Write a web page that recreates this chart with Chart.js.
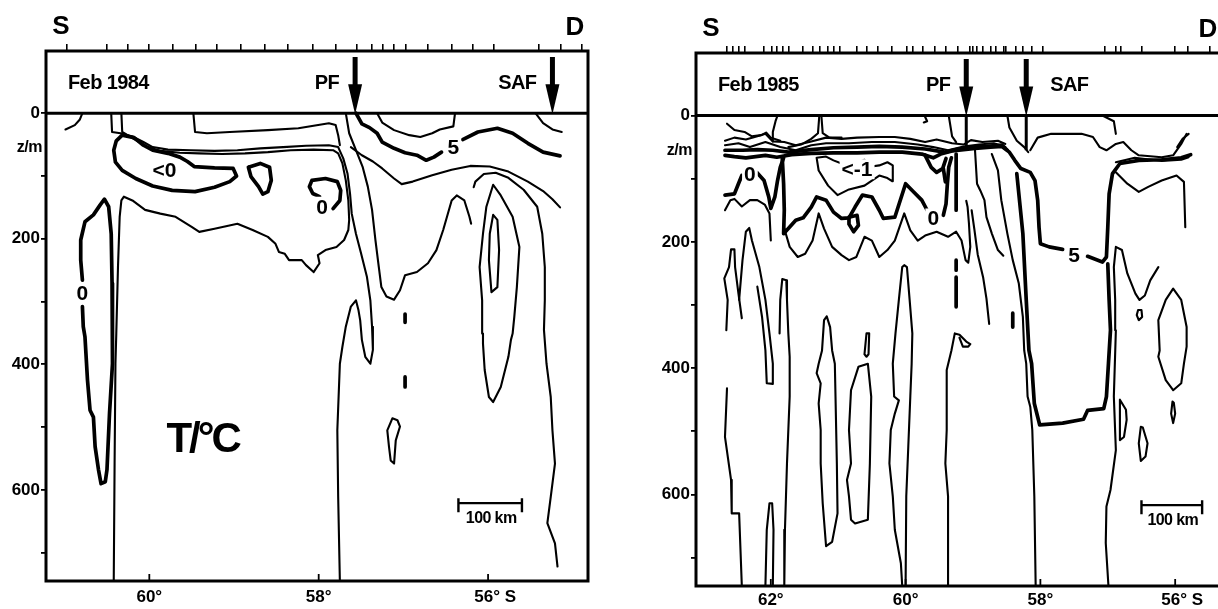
<!DOCTYPE html>
<html>
<head>
<meta charset="utf-8">
<script src="https://cdn.jsdelivr.net/npm/chart.js@4.4.1/dist/chart.umd.min.js"></script>
<style>
html, body { margin: 0; padding: 0; background: #fff; overflow: hidden; width: 1218px; height: 609px; }
canvas { position: absolute; top: 0; }
#c84 { left: 0; }
#c85 { left: 618px; }
</style>
</head>
<body>
<canvas id="c84" width="600" height="609"></canvas>
<canvas id="c85" width="612" height="609"></canvas>
<script>
// all points are [latitude °S, depth m]
const depthTicks = [0, 100, 200, 300, 400, 500, 600, 700];
const latTicks84 = [60, 58, 56];
const latTicks85 = [62, 60, 58, 56];

const stations84 = [60.98, 60.50, 60.26, 60.01, 59.72, 59.45, 59.20, 58.92, 58.64, 58.37, 58.07, 57.80,
  57.55, 57.37, 57.24, 57.11, 56.97, 56.71, 56.43, 56.18, 55.93, 55.40, 55.14, 54.89];
const stations85 = [62.65, 62.56, 62.47, 62.38, 62.11, 61.99, 61.91, 61.82, 61.74, 61.52, 61.37, 61.27,
  61.16, 61.07, 60.97, 60.72, 60.57, 60.41, 60.20, 59.98, 59.89, 59.74, 59.56, 59.40, 59.23, 59.04,
  59.00, 58.95, 58.85, 58.74, 58.66, 58.55, 58.51, 58.37, 58.26, 58.12, 57.97, 57.04, 56.88, 56.80,
  56.50, 56.00, 55.82, 55.48];

// fronts: name, latitude, depth reached by the marker below the surface
const fronts84 = [['PF', 57.57, 0], ['SAF', 55.24, 0]];
const fronts85 = [['PF', 59.10, 50], ['SAF', 58.21, 55]];

// contour labels: text, latitude, depth
const tags84 = [['<0', 59.82, 91], ['0', 57.96, 149], ['0', 60.79, 287], ['5', 56.41, 54]];
const tags85 = [['0', 62.31, 93], ['<-1', 60.72, 85], ['0', 59.59, 163], ['5', 57.50, 221]];
const unit84 = ['T/°C', 59.37, 521];
const bar84 = [56.35, 55.60, 621];
const bar85 = [56.50, 55.60, 617];

// Feb 1984 isotherms
const thin84 = [
  [[60.99,26],[60.88,19],[60.82,10],[60.79,0]],
  [[60.45,0],[60.44,30],[60.34,32],[60.20,37],[60.07,46],[59.96,54],[59.78,58],[59.51,59],[59.23,60],[58.96,59],[58.69,56],[58.42,54],[58.15,52],[57.88,51],[57.77,54],[57.71,72],[57.66,96],[57.63,128],[57.61,160],[57.56,192],[57.50,223],[57.43,261],[57.39,298],[57.37,340],[57.36,377],[57.39,399],[57.45,388],[57.49,361],[57.51,330],[57.53,314],[57.56,298],[57.62,308],[57.68,340],[57.72,372],[57.75,399],[57.78,505],[57.77,611],[57.75,745]],
  [[60.33,0],[60.32,30],[60.16,43],[60.02,54],[59.87,60],[59.64,63],[59.41,64],[59.14,65],[58.87,64],[58.60,62],[58.33,59],[58.06,58],[57.83,59],[57.77,64],[57.72,80],[57.68,107],[57.65,139],[57.64,170],[57.65,186],[57.70,202],[57.79,213],[57.92,218],[58.01,226],[57.99,239],[58.06,253],[58.15,242],[58.20,234],[58.35,234],[58.40,224],[58.47,221],[58.51,208],[58.60,197],[58.78,186],[58.96,176],[59.23,184],[59.41,189],[59.50,181],[59.69,165],[59.87,160],[60.05,154],[60.20,139],[60.30,133],[60.33,139],[60.35,165],[60.37,245],[60.39,351],[60.40,399],[60.41,558],[60.42,745]],
  [[59.48,0],[59.46,30],[59.32,32],[59.05,30],[58.60,27],[58.24,24],[57.88,16],[57.80,19],[57.77,35],[57.75,51]],
  [[57.68,0],[57.64,32],[57.56,59],[57.48,86],[57.42,117],[57.37,154],[57.33,202],[57.29,245],[57.26,277],[57.20,292],[57.11,297],[57.04,282],[56.98,258],[56.84,253],[56.71,239],[56.61,218],[56.53,186],[56.43,139],[56.37,131],[56.28,139],[56.22,165],[56.20,176]],
  [[57.31,0],[57.25,15],[57.11,27],[56.93,35],[56.80,38],[56.66,32],[56.57,26],[56.41,21],[56.39,0]],
  [[57.62,54],[57.49,67],[57.36,77],[57.25,88],[57.11,104],[57.02,113],[56.89,109],[56.66,99],[56.43,90],[56.21,84],[55.98,85],[55.76,93],[55.53,109],[55.35,124],[55.24,137],[55.15,150]],
  [[55.44,0],[55.35,16],[55.24,26],[55.13,30]],
  [[56.17,118],[56.15,109],[56.05,97],[55.91,95],[55.76,103],[55.58,122],[55.42,149],[55.36,192],[55.33,245],[55.33,298],[55.34,345],[55.31,399],[55.26,452],[55.24,505],[55.21,558],[55.26,611],[55.30,653],[55.21,685],[55.18,722]],
  [[56.06,351],[56.07,298],[56.10,245],[56.06,192],[56.02,149],[55.94,114],[55.85,131],[55.71,165],[55.63,213],[55.66,277],[55.69,324],[55.71,351],[55.73,361],[55.76,388],[55.85,436],[55.94,460],[55.99,452],[56.04,409],[56.06,367],[56.06,351]],
  [[55.94,162],[55.98,192],[55.99,234],[55.96,285],[55.89,277],[55.87,218],[55.89,170],[55.94,162]],
  [[57.13,486],[57.07,489],[57.04,499],[57.09,521],[57.11,558],[57.15,553],[57.17,531],[57.19,505],[57.13,486]]
];
const thick84 = [
  [[60.32,35],[60.18,39],[60.07,51],[59.96,59],[59.78,64],[59.64,70],[59.55,77],[59.47,85],[59.23,87],[59.01,88],[58.97,100],[59.05,109],[59.23,118],[59.46,125],[59.73,123],[59.96,116],[60.16,104],[60.32,91],[60.40,78],[60.42,59],[60.39,44],[60.32,35]],
  [[58.83,86],[58.69,80],[58.58,86],[58.56,107],[58.60,125],[58.66,129],[58.71,117],[58.80,101],[58.83,86]],
  [[57.83,152],[57.75,139],[57.74,123],[57.78,109],[57.92,104],[58.08,107],[58.11,117],[58.07,128],[57.99,133]],
  [[60.79,266],[60.81,234],[60.81,202],[60.76,173],[60.66,162],[60.58,146],[60.53,137],[60.48,149],[60.45,192],[60.44,271],[60.43,346],[60.44,399],[60.47,478],[60.50,568],[60.52,587],[60.57,590],[60.60,568],[60.64,531],[60.66,484],[60.70,473],[60.73,425],[60.76,356],[60.78,340],[60.79,308]],
  [[57.56,0],[57.49,17],[57.40,23],[57.31,32],[57.25,46],[57.11,56],[56.98,63],[56.84,67],[56.73,75],[56.64,70],[56.55,62]],
  [[56.30,42],[56.12,30],[55.89,24],[55.71,32],[55.53,48],[55.35,62],[55.15,68]],
  [[56.98,320],[56.98,333]],
  [[56.98,420],[56.98,436]]
];

// Feb 1985 isotherms
const thin85 = [
  [[62.65,13],[62.54,23],[62.39,26],[62.28,33],[62.14,31],[62.07,27],[62.00,35],[61.86,40]],
  [[61.97,41],[61.97,26],[61.93,9],[61.90,0]],
  [[61.74,50],[61.55,46],[61.40,37],[61.30,28],[61.28,0]],
  [[61.25,0],[61.23,28],[61.13,35],[60.95,35]],
  [[59.72,0],[59.68,9],[59.73,11]],
  [[59.36,0],[59.31,33],[59.25,42]],
  [[58.49,0],[58.46,19],[58.35,40],[58.24,50],[58.18,58]],
  [[58.15,55],[58.04,35],[57.84,29],[57.39,29],[57.22,34],[57.12,50],[57.02,55],[56.88,45],[56.77,42],[56.65,55],[56.54,63],[56.20,66],[56.03,63],[55.91,45],[55.83,29]],
  [[56.88,74],[56.60,67],[56.20,72],[55.91,70],[55.80,66]],
  [[55.97,50],[55.89,37],[55.80,29]],
  [[57.08,0],[56.91,9],[56.88,29]],
  [[62.68,40],[62.54,35],[62.37,38],[62.20,33],[62.08,29],[61.97,41],[61.80,42],[61.63,47],[61.40,41],[61.18,35],[60.95,37],[60.72,35],[60.39,34],[60.16,34],[59.93,37],[59.71,42],[59.54,38],[59.31,44],[59.14,46],[59.03,39],[58.86,42],[58.63,40],[58.52,45]],
  [[62.68,47],[62.48,44],[62.31,50],[62.08,42],[61.86,50],[61.63,55],[61.40,47],[61.18,44],[60.84,44],[60.50,42],[60.16,42],[59.82,46],[59.59,50],[59.37,55],[59.14,49],[58.91,46],[58.69,44],[58.52,50]],
  [[62.68,150],[62.60,134],[62.54,132],[62.43,144],[62.31,134],[62.20,134],[62.09,141],[62.02,155],[62.00,198]],
  [[61.32,67],[61.29,87],[61.15,111],[61.01,126],[60.84,117],[60.61,111],[60.39,95],[60.27,99],[60.20,104],[60.19,79],[60.27,74],[60.39,79],[60.53,81],[60.61,70],[60.72,75],[60.84,82],[60.95,76],[61.07,71],[61.18,65],[61.32,67]],
  [[61.80,179],[61.72,208],[61.60,224],[61.49,219],[61.38,198],[61.29,155],[61.21,179],[61.09,208],[60.95,221],[60.84,229],[60.73,224],[60.61,192],[60.50,198],[60.39,224],[60.27,213],[60.16,198],[60.02,155],[59.93,182],[59.82,198],[59.71,190],[59.54,184],[59.37,192],[59.25,184],[59.17,198],[59.11,229],[59.07,233],[59.04,208],[59.06,171],[59.08,145],[59.10,135]],
  [[58.97,55],[58.94,108],[58.89,119],[58.83,134],[58.80,161],[58.72,187],[58.63,213],[58.55,222]],
  [[58.72,61],[58.63,87],[58.58,134],[58.49,187],[58.41,229],[58.32,266],[58.26,319],[58.24,372],[58.21,393],[58.19,445],[58.15,461],[58.12,498],[58.09,603],[58.07,745]],
  [[59.02,150],[58.98,180],[58.93,220],[58.85,256],[58.80,290],[58.76,330]],
  [[56.88,90],[56.71,108],[56.54,121],[56.40,113],[56.20,103],[55.98,95],[55.87,105],[55.85,177]],
  [[56.99,745],[57.03,677],[57.02,619],[56.96,593],[56.88,530],[56.91,445],[56.88,340],[56.89,292],[56.91,240],[56.88,208],[56.79,213],[56.71,250],[56.59,282],[56.53,292],[56.45,285],[56.37,261],[56.25,240]],
  [[56.23,372],[56.25,324],[56.14,292],[56.03,274],[55.91,292],[55.83,335],[55.83,366],[55.87,393],[55.91,424],[56.03,435],[56.14,419],[56.25,382],[56.23,372]],
  [[56.55,308],[56.50,308],[56.49,319],[56.54,324],[56.57,316],[56.55,308]],
  [[56.82,450],[56.73,466],[56.72,482],[56.76,509],[56.82,514],[56.82,450]],
  [[56.04,453],[56.06,472],[56.03,487],[56.00,472],[56.02,455],[56.04,453]],
  [[56.51,493],[56.54,519],[56.51,547],[56.44,540],[56.41,519],[56.48,494],[56.51,493]],
  [[62.66,340],[62.64,292],[62.69,258],[62.62,240],[62.59,212],[62.54,212],[62.53,240],[62.48,282],[62.43,321]],
  [[62.65,432],[62.68,509],[62.59,577],[62.58,630],[62.47,630],[62.43,745]],
  [[62.47,292],[62.42,229],[62.37,184],[62.32,178],[62.28,198],[62.17,240],[62.08,292],[62.02,345],[61.97,393],[61.97,425],[62.06,424],[62.08,372],[62.13,319],[62.20,271]],
  [[61.87,345],[61.86,292],[61.83,259],[61.77,261],[61.76,292],[61.74,345],[61.72,382],[61.72,445],[61.76,551],[61.79,656],[61.80,745]],
  [[62.08,745],[62.06,656],[62.02,614],[61.98,614],[61.96,656],[61.97,745]],
  [[61.24,372],[61.29,393],[61.32,408],[61.26,424],[61.29,456],[61.26,498],[61.26,551],[61.23,614],[61.18,682],[61.09,675],[61.01,630],[61.02,551],[61.04,445],[61.05,393],[61.09,372],[61.12,335],[61.17,318],[61.21,324],[61.24,372]],
  [[60.61,378],[60.58,345],[60.54,345],[60.55,378],[60.58,382],[60.61,378]],
  [[60.56,393],[60.70,398],[60.81,435],[60.84,498],[60.81,551],[60.87,577],[60.84,603],[60.81,640],[60.75,646],[60.56,640],[60.53,551],[60.51,445],[60.56,393]],
  [[60.05,745],[60.07,709],[60.16,656],[60.19,603],[60.24,551],[60.22,498],[60.16,472],[60.10,451],[60.17,445],[60.19,393],[60.15,345],[60.10,292],[60.05,240],[60.02,237],[59.98,240],[59.94,292],[59.90,345],[59.91,393],[59.93,445],[59.96,524],[59.99,603],[60.00,745]],
  [[59.36,745],[59.37,603],[59.41,551],[59.39,498],[59.39,403],[59.32,372],[59.27,345],[59.20,347],[59.10,358],[59.04,362],[59.07,366],[59.15,366],[59.20,352]]
];
const thick85 = [
  [[62.68,55],[62.42,55],[62.20,54],[61.97,55],[61.74,58],[61.40,54],[61.07,51],[60.72,50],[60.39,49],[60.05,50],[59.71,53],[59.42,58],[59.25,54],[59.03,50],[58.80,49],[58.57,47],[58.49,55]],
  [[62.68,63],[62.54,65],[62.37,67],[62.08,63],[61.91,66],[61.69,62],[61.40,60],[61.07,59],[60.72,59],[60.39,58],[60.05,58],[59.76,61],[59.59,67],[59.48,61],[59.31,56],[59.14,54],[58.97,52],[58.74,50],[58.57,49],[58.46,58],[58.38,71],[58.29,84],[58.15,90],[58.08,103],[58.04,134],[58.02,177],[58.00,203],[57.87,208],[57.67,212]],
  [[57.30,223],[57.08,232],[57.02,224],[57.00,177],[56.98,124],[56.93,92],[56.82,76],[56.54,71],[56.20,70],[55.91,67],[55.77,62]],
  [[58.35,92],[58.26,187],[58.21,292],[58.17,372],[58.13,393],[58.09,456],[58.01,490],[57.67,487],[57.36,481],[57.30,467],[57.06,464],[57.02,445],[56.99,393],[56.96,340],[56.98,292],[57.00,235]],
  [[62.68,126],[62.54,124],[62.48,108],[62.43,95]],
  [[62.21,90],[62.10,103],[62.03,129],[62.00,147],[61.94,129],[61.90,103],[61.86,82],[61.81,67]],
  [[61.83,67],[61.81,108],[61.80,150],[61.81,187],[61.74,179],[61.63,166],[61.52,162],[61.40,145],[61.32,129],[61.18,134],[61.07,153],[60.95,163],[60.84,162],[60.75,145],[60.64,126],[60.50,129],[60.39,150],[60.33,163],[60.16,161],[60.00,108],[59.88,121],[59.76,134],[59.68,150]],
  [[59.44,158],[59.40,140],[59.38,108],[59.36,82],[59.32,67]],
  [[59.71,63],[59.62,82],[59.54,90],[59.45,84],[59.40,68]],
  [[59.25,61],[59.25,150]],
  [[60.84,161],[60.72,158],[60.70,174],[60.77,184],[60.84,172],[60.84,161]],
  [[59.44,84],[59.41,105]],
  [[59.25,229],[59.25,245]],
  [[59.25,256],[59.25,303]],
  [[58.41,313],[58.41,335]]
];

const FONT = "'Liberation Sans', Arial, sans-serif";

function contour(pts, w) {
  return {
    data: pts.map(p => ({ x: p[0], y: p[1] })),
    showLine: true, pointRadius: 0, borderColor: '#000', borderWidth: w,
    borderJoinStyle: 'round', borderCapStyle: 'round', tension: 0, fill: false
  };
}

function panelPlugin(P) {
  return {
    id: 'panel' + P.title,
    afterDatasetsDraw(chart) {
      const { ctx, scales: { x, y } } = chart;
      ctx.save();
      ctx.font = 'bold 21px ' + FONT;
      ctx.textAlign = 'center';
      ctx.textBaseline = 'middle';
      P.tags.forEach(([t, lat, d]) => {
        const px = x.getPixelForValue(lat), py = y.getPixelForValue(d);
        const w = ctx.measureText(t).width;
        ctx.fillStyle = '#fff';
        ctx.fillRect(px - w / 2 - 2, py - 10, w + 4, 20);
        ctx.fillStyle = '#000';
        ctx.fillText(t, px, py + 1);
      });
      if (P.unit) {
        ctx.font = 'bold 42px ' + FONT;
        ctx.letterSpacing = '-3px';
        ctx.fillText(P.unit[0], x.getPixelForValue(P.unit[1]), y.getPixelForValue(P.unit[2]));
        ctx.letterSpacing = '0px';
      }
      // 100 km scale bar
      const [b1, b2, bd] = P.bar;
      const bx1 = x.getPixelForValue(b1), bx2 = x.getPixelForValue(b2), by = y.getPixelForValue(bd);
      ctx.strokeStyle = '#000';
      ctx.lineWidth = 2.4;
      ctx.beginPath();
      ctx.moveTo(bx1, by); ctx.lineTo(bx2, by);
      ctx.moveTo(bx1, by - 5); ctx.lineTo(bx1, by + 9);
      ctx.moveTo(bx2, by - 5); ctx.lineTo(bx2, by + 9);
      ctx.stroke();
      ctx.font = 'bold 16px ' + FONT;
      ctx.letterSpacing = '-0.6px';
      ctx.fillStyle = '#000';
      ctx.fillText('100 km', (bx1 + bx2) / 2 + 1, by + 15);
      ctx.letterSpacing = '0px';
      ctx.restore();
    },
    afterDraw(chart) {
      const { ctx, chartArea: a, scales: { x, y } } = chart;
      const y0 = y.getPixelForValue(0);
      ctx.save();
      ctx.strokeStyle = '#000';
      ctx.fillStyle = '#000';
      ctx.lineWidth = 3;
      ctx.strokeRect(a.left, a.top, a.right - a.left, a.bottom - a.top);
      ctx.beginPath();
      ctx.moveTo(a.left, y0); ctx.lineTo(a.right, y0);
      ctx.stroke();
      // inward ticks on the latitude axis
      ctx.lineWidth = 1.8;
      P.latTicks.forEach(v => {
        const px = x.getPixelForValue(v);
        ctx.beginPath(); ctx.moveTo(px, a.bottom); ctx.lineTo(px, a.bottom - 7); ctx.stroke();
      });
      // front arrows
      const ty = y.getPixelForValue(-47);
      P.fronts.forEach(([name, lat, deep], i) => {
        const px = x.getPixelForValue(lat);
        ctx.lineWidth = 5;
        ctx.beginPath(); ctx.moveTo(px, a.top + 6); ctx.lineTo(px, y0 - 26); ctx.stroke();
        ctx.beginPath();
        ctx.moveTo(px - 7, y0 - 29); ctx.lineTo(px + 7, y0 - 29); ctx.lineTo(px, y0 + 1);
        ctx.closePath(); ctx.fill();
        if (deep > 0) {
          ctx.lineWidth = 3;
          ctx.beginPath(); ctx.moveTo(px, y0); ctx.lineTo(px, y.getPixelForValue(deep)); ctx.stroke();
        }
        ctx.font = 'bold 20px ' + FONT;
        ctx.letterSpacing = '-0.6px';
        ctx.textBaseline = 'middle';
        if (P.frontSides[i] === 'right') { ctx.textAlign = 'left'; ctx.fillText(name, px + 24, ty); }
        else { ctx.textAlign = 'right'; ctx.fillText(name, px - 16, ty); }
      });
      ctx.textAlign = 'left';
      ctx.fillText(P.title, a.left + 22, ty);
      ctx.letterSpacing = '0px';
      // section ends and depth unit
      ctx.font = 'bold 26px ' + FONT;
      ctx.textAlign = 'center';
      ctx.fillText('S', a.left + 15, a.top - 24);
      ctx.fillText('D', a.right - 13, a.top - 23);
      ctx.font = 'bold 16px ' + FONT;
      ctx.letterSpacing = '-0.5px';
      ctx.textAlign = 'right';
      ctx.fillText('z/m', a.left - 4, y.getPixelForValue(55));
      ctx.restore();
    }
  };
}

function makeChart(id, P) {
  const datasets = [];
  P.thin.forEach(l => datasets.push(contour(l, 2.1)));
  P.thick.forEach(l => datasets.push(contour(l, 3.7)));
  const tickFont = { family: FONT, size: 17, weight: 'bold' };
  return new Chart(document.getElementById(id), {
    type: 'scatter',
    data: { datasets },
    options: {
      responsive: false,
      animation: false,
      events: [],
      layout: { padding: { left: 0, right: P.padRight, top: 0, bottom: 0 } },
      plugins: { legend: { display: false }, tooltip: { enabled: false } },
      scales: {
        x: {
          type: 'linear', position: 'bottom', reverse: true, min: P.latMin, max: P.latMax,
          afterBuildTicks: s => { s.ticks = P.latTicks.map(v => ({ value: v })); },
          afterFit: s => { s.height = P.bottomH; },
          grid: { display: false, drawTicks: false },
          border: { display: false },
          ticks: {
            color: '#000', font: tickFont, padding: P.labelPad,
            maxRotation: 0, autoSkip: false,
            callback: v => v === 56 ? '   56° S' : v + '°'
          }
        },
        st: {
          type: 'linear', position: 'top', reverse: true, min: P.latMin, max: P.latMax,
          afterBuildTicks: s => { s.ticks = P.stations.map(v => ({ value: v })); },
          afterFit: s => { s.height = P.topH; },
          grid: { drawOnChartArea: false, drawTicks: true, tickLength: 7, color: '#000', lineWidth: 1.6 },
          border: { display: false },
          ticks: { display: false, autoSkip: false }
        },
        y: {
          type: 'linear', reverse: true, min: -99, max: 745,
          afterBuildTicks: s => { s.ticks = depthTicks.map(v => ({ value: v })); },
          afterFit: s => { s.width = P.leftW; },
          grid: { drawOnChartArea: false, drawTicks: true, tickLength: 5, color: '#000', lineWidth: 1.8 },
          border: { display: false },
          ticks: {
            color: '#000', font: tickFont, padding: 1, autoSkip: false,
            callback: v => v % 200 === 0 ? String(v) : ''
          }
        }
      }
    },
    plugins: [panelPlugin(P)]
  });
}

makeChart('c84', {
  title: 'Feb 1984', thin: thin84, thick: thick84, stations: stations84, latTicks: latTicks84,
  latMin: 54.82, latMax: 61.22, fronts: fronts84, frontSides: ['left', 'left'],
  tags: tags84, unit: unit84, bar: bar84,
  padRight: 12, leftW: 46, topH: 51, bottomH: 28, labelPad: 6
});
makeChart('c85', {
  title: 'Feb 1985', thin: thin85, thick: thick85, stations: stations85, latTicks: latTicks85,
  latMin: 55.32, latMax: 63.11, fronts: fronts85, frontSides: ['left', 'right'],
  tags: tags85, unit: null, bar: bar85,
  padRight: 9, leftW: 78, topH: 53, bottomH: 23, labelPad: 4
});
</script>
</body>
</html>
